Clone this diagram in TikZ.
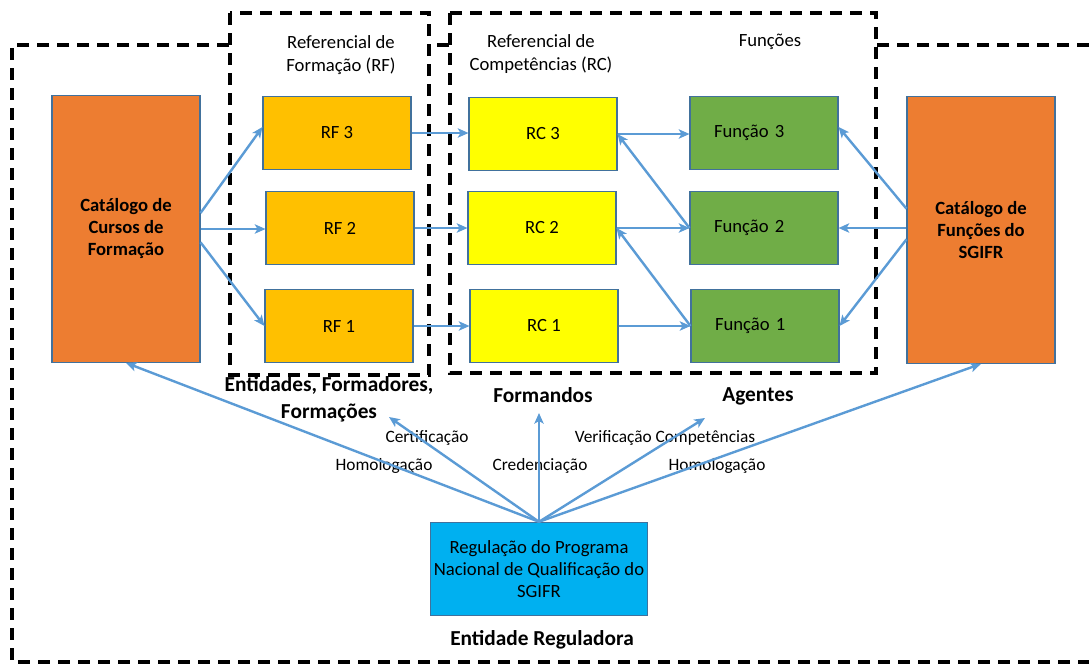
\documentclass[tikz,border=0pt]{standalone}
\usepackage{fontspec}
\setmainfont{Carlito}
\usepackage{tikz}
\usetikzlibrary{arrows.meta,
	calc}

\definecolor{catorange}{HTML}{ED7D31}
\definecolor{rfgold}{HTML}{FFC000}
\definecolor{rcyellow}{HTML}{FFFF00}
\definecolor{fgreen}{HTML}{70AD47}
\definecolor{regblue}{HTML}{00B0F0}
\definecolor{edgeblue}{HTML}{41719C}
\definecolor{linkblue}{HTML}{5B9BD5}

\begin{document}
\begin{tikzpicture}[x=0.75pt, y=-0.75pt, font=\fontsize{14}{17}\selectfont]
    \tikzstyle{box}=[draw=edgeblue, line width=0.8pt, inner sep=2pt, align=center]
    \tikzstyle{refbox}=[box, minimum width=111pt, minimum height=55pt]
    \tikzstyle{funbox}=[refbox, fill=fgreen, text width=75pt, inner xsep=18pt, align=left]
    \tikzstyle{catbox}=[box, fill=catorange, minimum width=111pt, minimum height=200pt, font=\fontsize{14}{16.5}\selectfont\bfseries]
    \tikzstyle{frame}=[line width=2.6pt, dash pattern=on 9pt off 6pt]
    \tikzstyle{link}=[draw=linkblue, line width=1.8pt, -{Stealth[length=8pt,width=7pt,inset=2pt]}]
    \tikzstyle{group}=[align=center, font=\fontsize{16}{20}\selectfont\bfseries]
    \tikzstyle{act}=[font=\fontsize{13}{15}\selectfont]
    \useasboundingbox (0,0) rectangle (1089,664);

    % dashed frames
    \draw[frame] (1089,45) -- (12,45) -- (12,662) -- (1089,662);
    \draw[frame, fill=white] (230,13) rectangle (429,375);
    \draw[frame, fill=white] (450,13) rectangle (876,373);

    % headers
    \node[align=center] (hdrRF) at (341,55) {Referencial de\\Formação (RF)};
    \node[align=center] (hdrRC) at (541,54) {Referencial de\\Competências (RC)};
    \node (hdrF) at (770,42) {Funções};

    % catalogues
    \node[catbox] (cc) at (126,229) {Catálogo de\\Cursos de\\Formação};
    \node[catbox] (cf) at (981,230) {Catálogo de\\Funções do\\SGIFR};

    % RF, RC, Funções
    \node[refbox, fill=rfgold] (rf3) at (337,133) {RF 3};
    \node[refbox, fill=rfgold] (rf2) at (340,228) {RF 2};
    \node[refbox, fill=rfgold] (rf1) at (339,326) {RF 1};
    \node[refbox, fill=rcyellow] (rc3) at (543,134) {RC 3};
    \node[refbox, fill=rcyellow] (rc2) at (542,228) {RC 2};
    \node[refbox, fill=rcyellow] (rc1) at (544,326) {RC 1};
    \node[funbox] (f3) at (764,133) {Função 3};
    \node[funbox] (f2) at (764,228) {Função 2};
    \node[funbox] (f1) at (765,326) {Função 1};

    % regulator
    \node[box, fill=regblue, minimum width=163pt, minimum height=70pt, font=\fontsize{14}{16.5}\selectfont] (reg) at (539,569) {Regulação do Programa\\Nacional de Qualificação do\\SGIFR};

    % group labels
    \node[group] (lblEnt) at (329,399) {Entidades, Formadores,\\Formações};
    \node[group] (lblForm) at (543,395) {Formandos};
    \node[group] (lblAg) at (758,396) {Agentes};
    \node[group] (lblReg) at (542,640) {Entidade Reguladora};

    % activity labels
    \node[act] (labCert) at (427,438) {Certificação};
    \node[act] (labHomA) at (384,466) {Homologação};
    \node[act] (labCred) at (540,466) {Credenciação};
    \node[act] (labVer) at (665,438) {Verificação Competências};
    \node[act] (labHomB) at (717,466) {Homologação};

    % links
    \draw[link] ([yshift=12pt]cc.east) -- ([yshift=4.5pt]rf3.west);
    \draw[link] (cc.east) -- (cc.east -| rf2.west);
    \draw[link] ([yshift=-10pt]cc.east) -- (rf1.west);
    \draw[link] (rf3.east) -- (rf3.east -| rc3.west);
    \draw[link] (rf2.east) -- (rf2.east -| rc2.west);
    \draw[link] (rf1.east) -- (rf1.east -| rc1.west);
    \draw[link] (rc3.east) -- (rc3.east -| f3.west);
    \draw[link] (rc2.east) -- (rc2.east -| f2.west);
    \draw[link] (rc1.east) -- (rc1.east -| f1.west);
    \draw[link] (f2.west) -- (rc3.east);
    \draw[link] (f1.west) -- (rc2.east);
    \draw[link] ([yshift=16pt]cf.west) -- ([yshift=4.5pt]f3.east);
    \draw[link] (f2.east -| cf.west) -- (f2.east);
    \draw[link] ([yshift=-7pt]cf.west) -- (f1.east);

    \coordinate (tipEnt) at (389,417);
    \coordinate (tipForm) at (539,413);
    \coordinate (tipAg) at (705,418);
    \draw[link] (reg.north) -- (cc.south);
    \draw[link] (reg.north) -- (tipEnt);
    \draw[link] (reg.north) -- (tipForm);
    \draw[link] (reg.north) -- (tipAg);
    \draw[link] (reg.north) -- (cf.south);
\end{tikzpicture}
\end{document}
